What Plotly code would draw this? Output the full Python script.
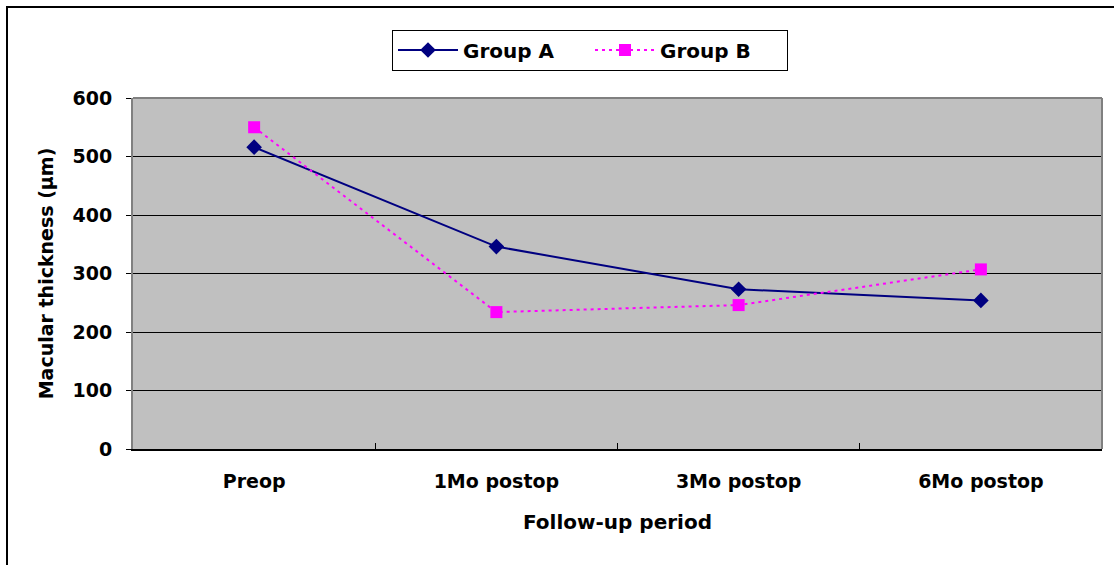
import plotly.graph_objects as go

categories = ["Preop", "1Mo postop", "3Mo postop", "6Mo postop"]
group_a = [516, 346, 273, 254]
group_b = [550, 234, 246, 307]
y_ticks = [0, 100, 200, 300, 400, 500, 600]

W, H = 1114, 565
L, R, T, B = 133, 1102, 98, 449

fig = go.Figure()
fig.add_trace(go.Scatter(
    x=categories, y=group_a, name="Group A", mode="lines+markers",
    line=dict(color="#000080", width=2),
    marker=dict(symbol="diamond", size=12, color="#000080"),
))
fig.add_trace(go.Scatter(
    x=categories, y=group_b, name="Group B", mode="lines+markers",
    line=dict(color="#FF00FF", width=2, dash="3px,4px"),
    marker=dict(symbol="square", size=12, color="#FF00FF"),
))

font_family = "DejaVu Sans, Liberation Sans, Arial, sans-serif"

fig.update_layout(
    width=W, height=H,
    margin=dict(l=L, r=W - R, t=T, b=H - B, pad=0),
    paper_bgcolor="white",
    plot_bgcolor="#C0C0C0",
    font=dict(family=font_family, color="black", size=19, weight="bold"),
    showlegend=True,
    legend=dict(
        orientation="h", x=(590 - L) / (R - L), y=(B - 50) / (B - T),
        xanchor="center", yanchor="middle",
        bordercolor="black", borderwidth=1, bgcolor="white",
        font=dict(size=20, family=font_family, weight="bold"),
        itemwidth=60, entrywidth=122,
    ),
    xaxis=dict(
        type="category",
        tickson="boundaries", ticks="inside", ticklen=6, tickcolor="black",
        showgrid=False, showline=True, linecolor="black", linewidth=2,
        mirror=False,
        ticklabelstandoff=14,
        tickfont=dict(size=19, family=font_family, weight="bold"),
        title=dict(text="Follow-up period", standoff=24,
                   font=dict(size=20, family=font_family, weight="bold")),
        range=[-0.5, 3.5],
    ),
    yaxis=dict(
        range=[0, 600], tickvals=y_ticks,
        ticks="outside", ticklen=5, tickcolor="black",
        showgrid=True, gridcolor="black", gridwidth=1,
        showline=True, linecolor="#808080", linewidth=2,
        ticklabelstandoff=10,
        tickfont=dict(size=19, family=font_family, weight="bold"),
        title=dict(text="Macular thickness (µm)", standoff=14,
                   font=dict(size=19, family=font_family, weight="bold")),
        zeroline=False,
    ),
)

# plot area border (top and right, gray)
fig.add_shape(type="line", xref="paper", yref="paper", x0=0, x1=1, y0=1, y1=1,
              line=dict(color="#808080", width=2))
fig.add_shape(type="line", xref="paper", yref="paper", x0=1, x1=1, y0=0, y1=1,
              line=dict(color="#808080", width=2))

# outer chart frame
def px_x(p):
    return (p - L) / (R - L)

def px_y(p):
    return (B - p) / (B - T)

fig.add_shape(type="rect", xref="paper", yref="paper",
              x0=px_x(7), x1=px_x(1125), y0=px_y(7), y1=px_y(580),
              line=dict(color="black", width=2), layer="below")

fig.write_html("out.html")
